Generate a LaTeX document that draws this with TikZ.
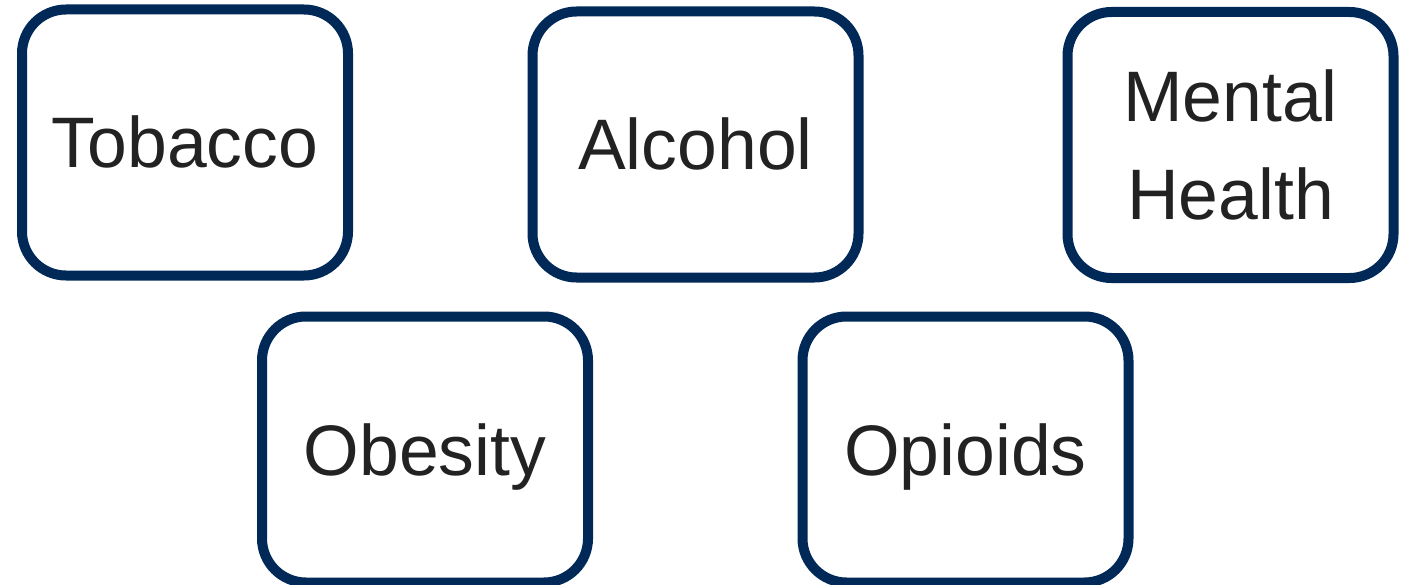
\documentclass[tikz,border=0pt]{standalone}
\usepackage{fontspec}
\setmainfont{Liberation Sans}
\definecolor{boxnavy}{RGB}{0,41,87}
\definecolor{labelgray}{RGB}{34,34,34}
\begin{document}
\begin{tikzpicture}[x=1pt,y=-1pt,
  topicbox/.style={draw=boxnavy, line width=10pt, rounded corners=44pt,
    minimum width=326pt, minimum height=266pt, inner sep=0pt,
    text=labelgray, font=\fontsize{71.5pt}{98pt}\selectfont,
    text height=51pt, text depth=0pt, align=center}]
\useasboundingbox (0,0) rectangle (1415,585);
\node[topicbox] (tobacco) at (185,142.5) {Tobacco};
\node[topicbox] (alcohol) at (695.5,144.5) {Alcohol};
\node[topicbox, text height=149pt] (mental) at (1230.5,145) {Mental\\Health};
\node[topicbox] (obesity) at (425,449.5) {Obesity};
\node[topicbox] (opioids) at (965.5,449.5) {Opioids};
\end{tikzpicture}
\end{document}
